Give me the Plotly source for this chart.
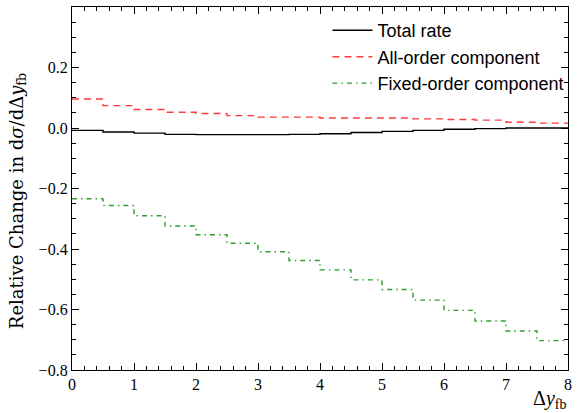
import plotly.graph_objects as go

bin_edges = [0.0, 0.5, 1.0, 1.5, 2.0, 2.5, 3.0, 3.5, 4.0, 4.5, 5.0, 5.5, 6.0, 6.5, 7.0, 7.5, 8.0]
total_rate = [-0.008, -0.013, -0.017, -0.021, -0.022, -0.022, -0.022, -0.021,
              -0.019, -0.015, -0.011, -0.008, -0.004, -0.002, 0.0, 0.0]
all_order = [0.096, 0.074, 0.061, 0.052, 0.048, 0.041, 0.036, 0.036,
             0.033, 0.033, 0.033, 0.030, 0.028, 0.026, 0.019, 0.016]
fixed_order = [-0.234, -0.256, -0.290, -0.324, -0.353, -0.381, -0.409, -0.438,
               -0.469, -0.502, -0.534, -0.569, -0.603, -0.638, -0.671, -0.703]
x_ticks = [0, 1, 2, 3, 4, 5, 6, 7, 8]
y_ticks = [-0.8, -0.6, -0.4, -0.2, 0.0, 0.2]

fig = go.Figure()

def step(vals):
    return vals + [vals[-1]]

fig.add_trace(go.Scatter(x=bin_edges, y=step(total_rate), mode="lines", line_shape="hv",
                         name="Total rate", line=dict(color="black", width=1.4)))
fig.add_trace(go.Scatter(x=bin_edges, y=step(all_order), mode="lines", line_shape="hv",
                         name="All-order component",
                         line=dict(color="#ff3b3b", width=1.4, dash="7px,5px")))
fig.add_trace(go.Scatter(x=bin_edges, y=step(fixed_order), mode="lines", line_shape="hv",
                         name="Fixed-order component",
                         line=dict(color="#2e9e2e", width=1.4, dash="5px,4px,1.5px,4px")))

tickfont = dict(family="Liberation Serif, DejaVu Serif, serif", size=16, color="black")
axis_common = dict(showline=True, linecolor="black", linewidth=1.3, mirror="allticks",
                   ticks="inside", ticklen=7, tickwidth=1, tickcolor="black",
                   showgrid=False, zeroline=False, tickfont=tickfont)

fig.update_xaxes(range=[0, 8], tickmode="array", tickvals=x_ticks,
                 ticktext=[str(v) for v in x_ticks],
                 minor=dict(ticks="inside", ticklen=4, tickwidth=1, tickcolor="black",
                            dtick=0.2, tick0=0, showgrid=False),
                 **axis_common)
fig.update_yaxes(range=[-0.8, 0.4], tickmode="array", tickvals=y_ticks,
                 ticktext=[f"{v:.1f}".replace("-", "\u2212") for v in y_ticks],
                 minor=dict(ticks="inside", ticklen=4, tickwidth=1, tickcolor="black",
                            dtick=0.05, tick0=0, showgrid=False),
                 **axis_common)

fig.update_layout(
    width=581, height=413,
    margin=dict(l=72, r=13, t=7, b=43),
    plot_bgcolor="white", paper_bgcolor="white",
    showlegend=True,
    legend=dict(x=0.515, y=0.986, xanchor="left", yanchor="top",
                bgcolor="rgba(0,0,0,0)", borderwidth=0,
                font=dict(family="Liberation Sans, Arial, sans-serif", size=18, color="black"),
                itemwidth=40, tracegroupgap=0),
    annotations=[
        dict(text="Relative Change in d<i>σ</i>/dΔ<i>y</i><sub>fb</sub>",
             xref="paper", yref="paper", x=-0.109, y=0.465, xanchor="center", yanchor="middle",
             textangle=-90, showarrow=False,
             font=dict(family="DejaVu Serif, Liberation Serif, serif", size=18, color="black")),
        dict(text="Δ<i>y</i><sub>fb</sub>",
             xref="paper", yref="paper", x=1.0, y=-0.04, xanchor="right", yanchor="top",
             showarrow=False,
             font=dict(family="Liberation Serif, DejaVu Serif, serif", size=20, color="black")),
    ],
)

fig.write_html("out.html", config={"displayModeBar": False},
               post_script="document.body.style.margin='0';document.body.style.padding='0';")
